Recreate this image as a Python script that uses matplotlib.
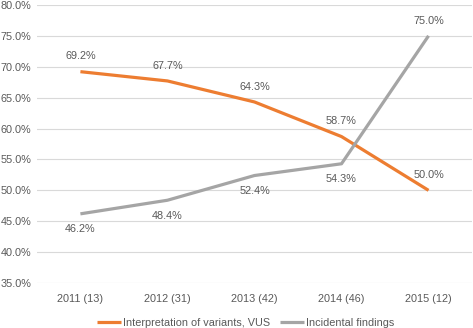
import matplotlib.pyplot as plt
from matplotlib.ticker import FuncFormatter

plt.rcParams['font.family'] = ['Liberation Sans', 'DejaVu Sans']

years = ["2011 (13)", "2012 (31)", "2013 (42)", "2014 (46)", "2015 (12)"]
vus = [69.2, 67.7, 64.3, 58.7, 50.0]
incidental = [46.2, 48.4, 52.4, 54.3, 75.0]

orange = "#ED7D31"
grey = "#A5A5A5"
textc = "#595959"
fs = 7.8

fig = plt.figure(figsize=(4.73, 3.28), dpi=100)
ax = fig.add_axes([0.078, 0.137, 0.92, 0.848])

x = list(range(len(years)))
ax.plot(x, vus, color=orange, lw=2.3, label="Interpretation of variants, VUS",
        solid_capstyle='butt', zorder=3)
ax.plot(x, incidental, color=grey, lw=2.3, label="Incidental findings",
        solid_capstyle='butt', zorder=3)

# labels: orange above, grey below (last grey one above)
for i, v in enumerate(vus):
    ax.annotate(f"{v:.1f}%", (i, v), xytext=(0, 11), textcoords='offset points',
                ha='center', va='center', fontsize=fs, color=textc)
for i, v in enumerate(incidental):
    dy = 11 if i == len(incidental) - 1 else -11
    ax.annotate(f"{v:.1f}%", (i, v), xytext=(0, dy), textcoords='offset points',
                ha='center', va='center', fontsize=fs, color=textc)

ax.set_xlim(-0.5, len(years) - 0.5)
ax.set_ylim(35, 80)
ax.set_yticks(range(35, 81, 5))
ax.yaxis.set_major_formatter(FuncFormatter(lambda v, p: f"{v:.1f}%"))
ax.set_xticks(x)
ax.set_xticklabels(years)
ax.tick_params(length=0, labelsize=fs, colors=textc)
ax.tick_params(axis='x', pad=8)
ax.tick_params(axis='y', pad=4)
ax.grid(axis='y', color="#D9D9D9", lw=0.8)
ax.set_axisbelow(True)
for s in ax.spines.values():
    s.set_visible(False)

fig.legend(loc='lower center', bbox_to_anchor=(0.52, -0.03), ncol=2, frameon=False,
           fontsize=fs, labelcolor=textc, handlelength=2.2, handletextpad=0.2,
           columnspacing=0.9)

plt.savefig('out.png', dpi=100)
